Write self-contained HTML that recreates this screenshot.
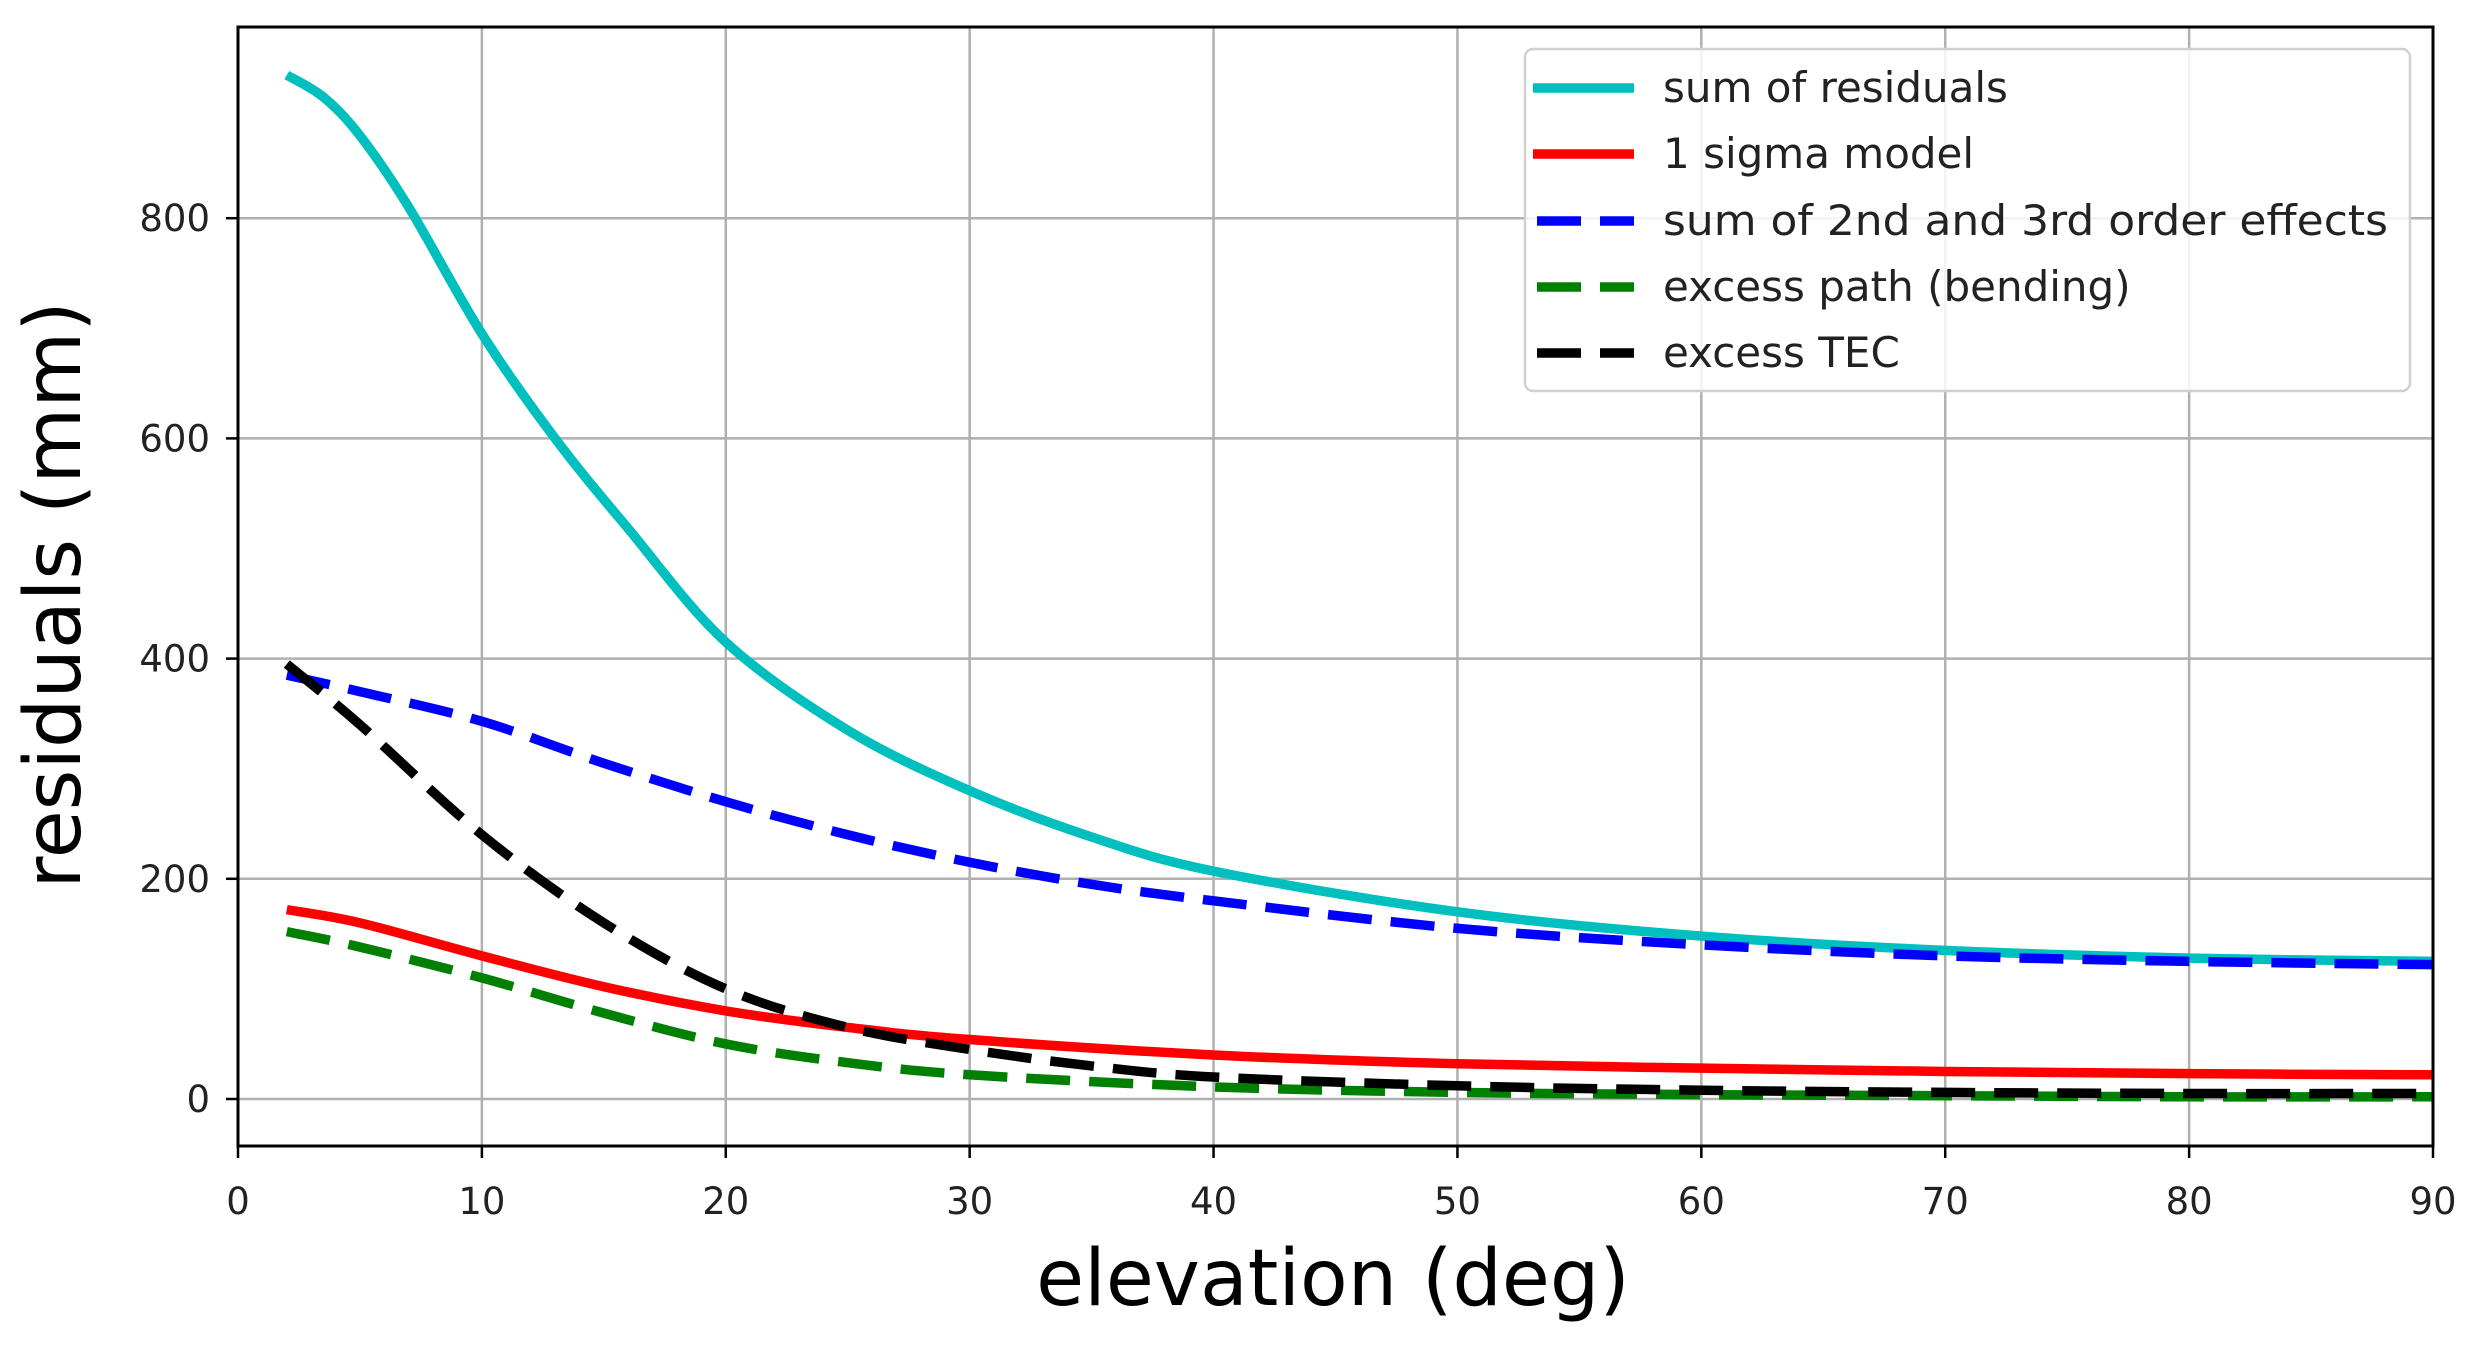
<!DOCTYPE html>
<html><head><meta charset="utf-8"><style>
html,body{margin:0;padding:0;background:#fff;}
svg{display:block;font-family:"DejaVu Sans","Liberation Sans",sans-serif;}
</style></head><body>
<svg id="s" width="2472" height="1345" viewBox="0 0 2472 1345" xmlns="http://www.w3.org/2000/svg">
<rect width="2472" height="1345" fill="#fff"/>
<g id="grid" stroke="#b0b0b0" stroke-width="2.5"></g>
<g id="series" fill="none" stroke-width="9.5"></g>
<rect x="238" y="27" width="2195" height="1119" fill="none" stroke="#000" stroke-width="3"/>
<g id="ticks" stroke="#000" stroke-width="2.5"></g>
<g id="labels" font-size="37" fill="#222"></g>
<text x="1333" y="1305" font-size="78" text-anchor="middle" fill="#000">elevation (deg)</text>
<text transform="translate(80,595) rotate(-90)" font-size="78" text-anchor="middle" fill="#000">residuals (mm)</text>
<g>
<rect x="1525" y="49" width="885" height="342" rx="8" fill="#fff" fill-opacity="0.85" stroke="#d0d0d0" stroke-width="2.5"/>
<line x1="1533" y1="88" x2="1634" y2="88" stroke="#00bfbf" stroke-width="9.5"/>
<line x1="1533" y1="154" x2="1634" y2="154" stroke="#ff0000" stroke-width="9.5"/>
<line x1="1537" y1="221" x2="1634" y2="221" stroke="#0000ff" stroke-width="9.5" stroke-dasharray="44,19"/>
<line x1="1537" y1="287" x2="1634" y2="287" stroke="#008000" stroke-width="9.5" stroke-dasharray="44,19"/>
<line x1="1537" y1="353" x2="1634" y2="353" stroke="#000" stroke-width="9.5" stroke-dasharray="44,19"/>
<g font-size="42" fill="#222">
<text x="1663" y="102">sum of residuals</text>
<text x="1663" y="168">1 sigma model</text>
<text x="1663" y="235" textLength="725" lengthAdjust="spacingAndGlyphs">sum of 2nd and 3rd order effects</text>
<text x="1663" y="301">excess path (bending)</text>
<text x="1663" y="367">excess TEC</text>
</g>
</g>
</svg>
<script>
var NS="http://www.w3.org/2000/svg";
function px(x){return 238+x*2195/90;}
function py(y){return 1099-y*1.101;}
function el(p,t,a){var e=document.createElementNS(NS,t);for(var k in a)e.setAttribute(k,a[k]);document.getElementById(p).appendChild(e);return e;}
for(var x=10;x<90;x+=10)el("grid","line",{x1:px(x),x2:px(x),y1:27,y2:1146});
for(var y=0;y<=800;y+=200)el("grid","line",{x1:238,x2:2433,y1:py(y),y2:py(y)});
for(var x=0;x<=90;x+=10){el("ticks","line",{x1:px(x),x2:px(x),y1:1146,y2:1158});var t=el("labels","text",{x:px(x),y:1214,"text-anchor":"middle"});t.textContent=x;}
for(var y=0;y<=800;y+=200){el("ticks","line",{x1:226,x2:238,y1:py(y),y2:py(y)});var t=el("labels","text",{x:210,y:py(y)+13,"text-anchor":"end"});t.textContent=y;}
function path(pts){var P=pts.map(function(p){return[px(p[0]),py(p[1])];});var d="M"+P[0][0]+","+P[0][1];
for(var i=0;i<P.length-1;i++){var p0=P[i-1]||P[i],p1=P[i],p2=P[i+1],p3=P[i+2]||p2;
d+=" C"+(p1[0]+(p2[0]-p0[0])/6)+","+(p1[1]+(p2[1]-p0[1])/6)+" "+(p2[0]-(p3[0]-p1[0])/6)+","+(p2[1]-(p3[1]-p1[1])/6)+" "+p2[0]+","+p2[1];}return d;}
var S=[
["#008000","44,19",[[2,152],[5,138],[10,110],[15,78],[20,50],[25,33],[30,22],[40,11],[50,6],[60,4],[70,3],[80,2],[90,2]]],
["#ff0000","",[[2,172],[5,160],[10,130],[15,102],[20,80],[25,65],[30,54],[40,40],[50,32],[60,28],[70,25],[80,23],[90,22]]],
["#00bfbf","",[[2,930],[3.5,910],[5,875],[7,810],[10,695],[13,600],[16,518],[20,415],[25,335],[30,280],[35,238],[40,207],[50,170],[60,148],[70,135],[80,128],[90,125]]],
["#0000ff","44,19",[[2,385],[5,370],[10,343],[15,305],[20,270],[25,240],[30,215],[35,195],[40,180],[50,155],[60,140],[70,130],[80,125],[90,122]]],
["#000000","44,19",[[2,395],[5,340],[10,240],[15,160],[20,100],[25,65],[30,45],[35,30],[40,20],[50,12],[60,8],[70,6],[80,5],[90,5]]]
];
S.forEach(function(s){var a={d:path(s[2]),stroke:s[0]};if(s[1])a["stroke-dasharray"]=s[1];el("series","path",a);});
</script>
</body></html>
